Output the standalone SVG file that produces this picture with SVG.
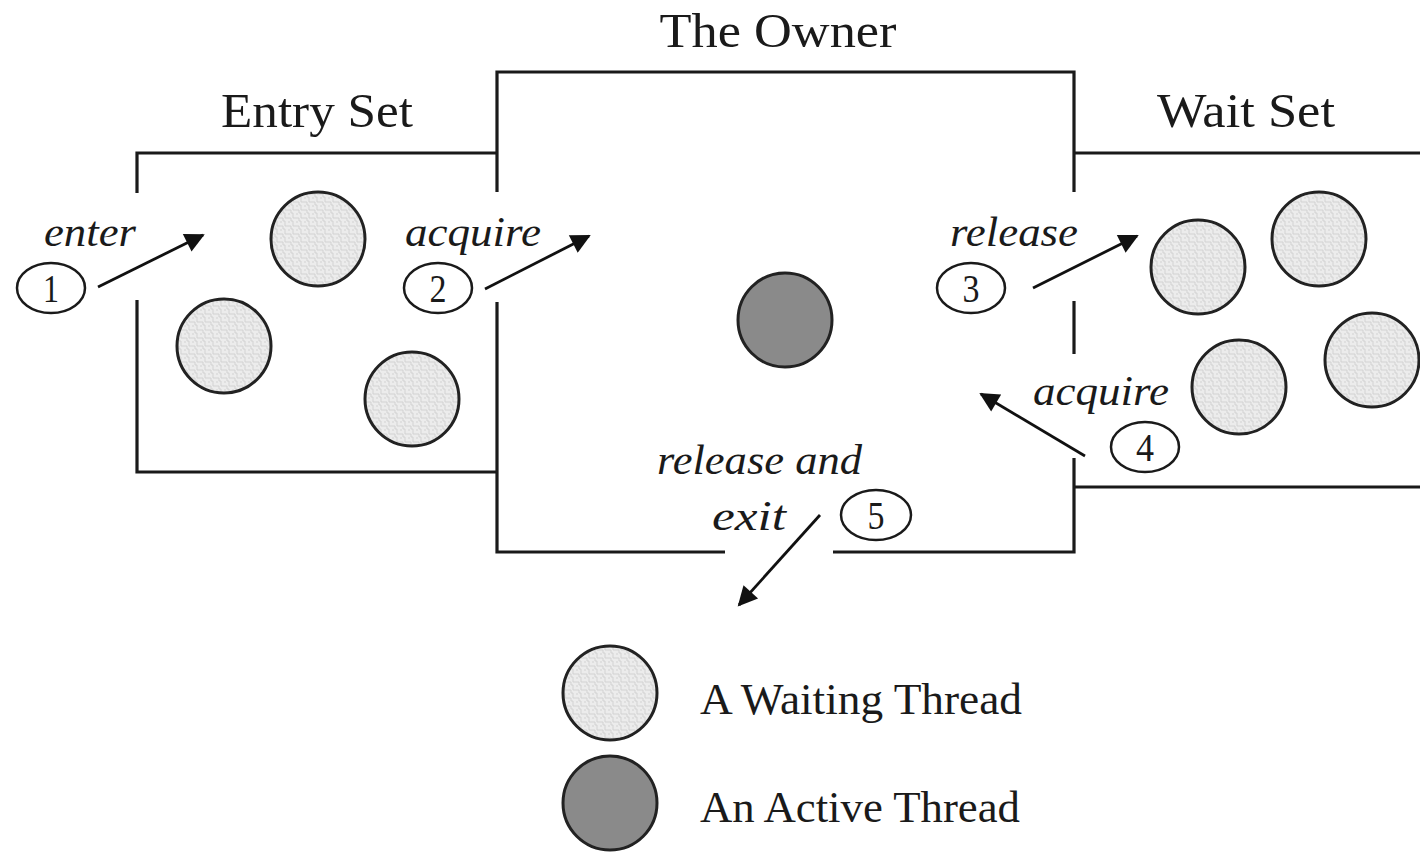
<svg xmlns="http://www.w3.org/2000/svg" width="1420" height="852" viewBox="0 0 1420 852">
<style>
.wall{fill:none;stroke:#1a1a1a;stroke-width:3.2;stroke-linecap:butt}
.title{font-family:"Liberation Serif","Times New Roman",serif;font-size:48px;fill:#1a1a1a}
.lbl{font-family:"Liberation Serif","Times New Roman",serif;font-style:italic;font-size:43px;fill:#1a1a1a}
.num{font-family:"Liberation Serif","Times New Roman",serif;font-size:40px;fill:#1a1a1a;text-anchor:middle}
.legend{font-family:"Liberation Serif","Times New Roman",serif;font-size:44px;fill:#1a1a1a}
.badge{fill:#fff;stroke:#1a1a1a;stroke-width:2.5}
.wt{fill:url(#tex);stroke:#222;stroke-width:3}
.at{fill:#8a8a8a;stroke:#222;stroke-width:3}
.conn{stroke:#111;stroke-width:2.8;fill:none;marker-end:url(#ah)}
</style>
<defs>
<pattern id="tex" width="8" height="8" patternUnits="userSpaceOnUse">
<rect width="8" height="8" fill="#ececec"/>
<path d="M0 2h3v3h2v3M5 0v2h3M0 6h2" stroke="#d2d2d2" stroke-width="1" fill="none"/>
</pattern>
<marker id="ah" viewBox="0 0 10 10" refX="9" refY="5" markerWidth="8" markerHeight="7" markerUnits="strokeWidth" orient="auto">
<path d="M0 0L10 5L0 10z" fill="#111"/>
</marker>
</defs>
<rect width="1420" height="852" fill="#fff"/>

<g id="entry-set">
<path class="wall" d="M497 153H137V193M137 300V472H497"/>
<text class="title" x="317" y="127" text-anchor="middle" textLength="192" lengthAdjust="spacingAndGlyphs">Entry Set</text>
<circle class="wt" cx="318" cy="239" r="47"/>
<circle class="wt" cx="224" cy="346" r="47"/>
<circle class="wt" cx="412" cy="399" r="47"/>
</g>

<g id="owner">
<path class="wall" d="M497 192V72H1074V192"/>
<path class="wall" d="M497 302V552H725M833 552H1074V458"/>
<path class="wall" d="M1074 301V354"/>
<text class="title" x="778" y="47" text-anchor="middle" textLength="237" lengthAdjust="spacingAndGlyphs">The Owner</text>
<circle class="at" cx="785" cy="320" r="47"/>
</g>

<g id="wait-set">
<path class="wall" d="M1074 153H1420M1074 487H1420"/>
<text class="title" x="1246" y="127" text-anchor="middle" textLength="178" lengthAdjust="spacingAndGlyphs">Wait Set</text>
<circle class="wt" cx="1198" cy="267" r="47"/>
<circle class="wt" cx="1319" cy="239" r="47"/>
<circle class="wt" cx="1239" cy="387" r="47"/>
<circle class="wt" cx="1372" cy="360" r="47"/>
</g>

<g id="step1">
<text class="lbl" x="44" y="246" textLength="92" lengthAdjust="spacingAndGlyphs">enter</text>
<ellipse class="badge" cx="51" cy="288" rx="34" ry="25"/>
<text class="num" x="51" y="302" textLength="16" lengthAdjust="spacingAndGlyphs">1</text>
</g>
<g id="step2">
<text class="lbl" x="405" y="246" textLength="136" lengthAdjust="spacingAndGlyphs">acquire</text>
<ellipse class="badge" cx="438" cy="288" rx="34" ry="25"/>
<text class="num" x="438" y="302" textLength="17" lengthAdjust="spacingAndGlyphs">2</text>
</g>
<g id="step3">
<text class="lbl" x="950" y="246" textLength="128" lengthAdjust="spacingAndGlyphs">release</text>
<ellipse class="badge" cx="971" cy="288" rx="34" ry="25"/>
<text class="num" x="971" y="302" textLength="17" lengthAdjust="spacingAndGlyphs">3</text>
</g>
<g id="step4">
<text class="lbl" x="1033" y="405" textLength="136" lengthAdjust="spacingAndGlyphs">acquire</text>
<ellipse class="badge" cx="1145" cy="447" rx="34" ry="25"/>
<text class="num" x="1145" y="461" textLength="18" lengthAdjust="spacingAndGlyphs">4</text>
</g>
<g id="step5">
<text class="lbl" x="657" y="474" textLength="205" lengthAdjust="spacingAndGlyphs">release and</text>
<text class="lbl" x="712" y="530" textLength="74" lengthAdjust="spacingAndGlyphs">exit</text>
<ellipse class="badge" cx="876" cy="515" rx="35" ry="25"/>
<text class="num" x="876" y="529" textLength="17" lengthAdjust="spacingAndGlyphs">5</text>
</g>

<g id="connectors">
<line class="conn" x1="98" y1="287" x2="203" y2="235"/>
<line class="conn" x1="485" y1="289" x2="589" y2="236"/>
<line class="conn" x1="1033" y1="288" x2="1137" y2="236"/>
<line class="conn" x1="1085" y1="456" x2="981" y2="394"/>
<line class="conn" x1="820" y1="515" x2="739" y2="605"/>
</g>

<g id="legend">
<circle class="wt" cx="610" cy="693" r="47"/>
<text class="legend" x="700" y="714" textLength="322" lengthAdjust="spacingAndGlyphs">A Waiting Thread</text>
<circle class="at" cx="610" cy="803" r="47"/>
<text class="legend" x="700" y="822" textLength="320" lengthAdjust="spacingAndGlyphs">An Active Thread</text>
</g>
</svg>
